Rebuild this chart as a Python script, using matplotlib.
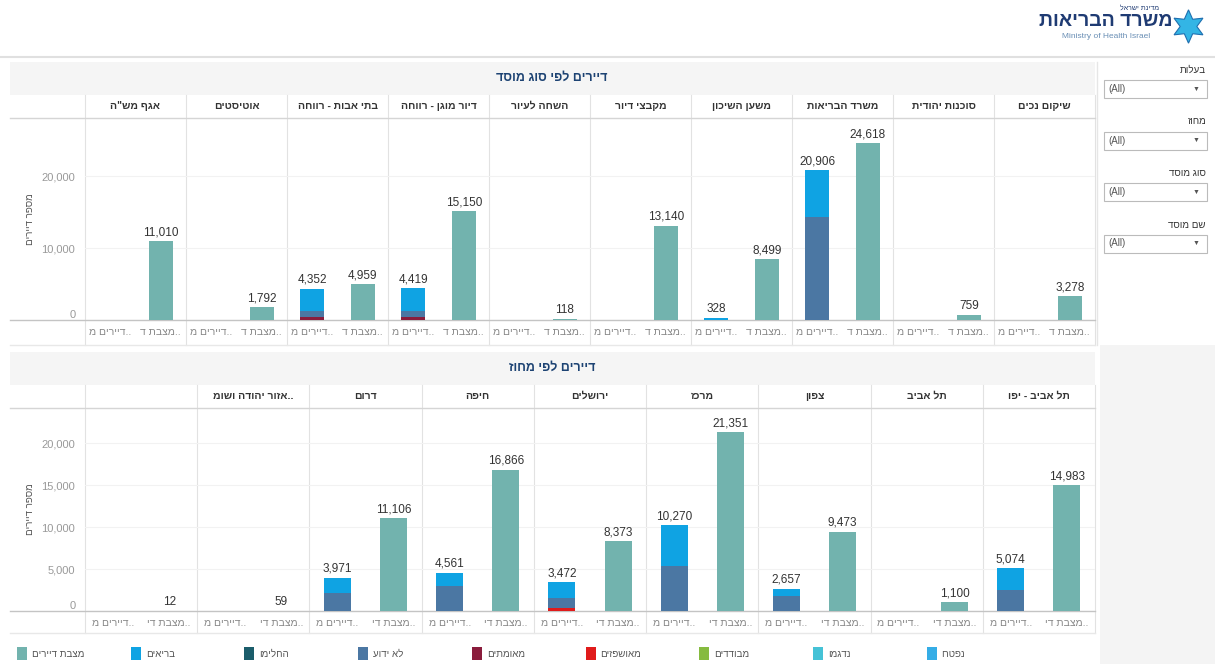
import matplotlib
matplotlib.use('Agg')
import matplotlib.pyplot as plt
from matplotlib.patches import Rectangle
import numpy as np

plt.rcParams['font.family'] = ['Liberation Sans', 'DejaVu Sans']

# --- data: residents by institution type (top) ---
type_cats = ['אגף מש"ה', 'אוטיסטים', 'בתי אבות - רווחה', 'דיור מוגן - רווחה', 'השחה לעיור',
             'מקבצי דיור', 'משען השיכון', 'משרד הבריאות', 'סוכנות יהודית', 'שיקום נכים']
type_census = [11010, 1792, 4959, 15150, 118, 13140, 8499, 24618, 759, 3278]
type_healthy = [0, 0, 3152, 3169, 0, 0, 328, 6556, 0, 0]
type_unknown = [0, 0, 800, 850, 0, 0, 0, 14350, 0, 0]
type_confirmed = [0, 0, 400, 400, 0, 0, 0, 0, 0, 0]
type_hosp = [0, 0, 0, 0, 0, 0, 0, 0, 0, 0]

# --- data: residents by district (bottom) ---
dist_cats = ['', 'אזור יהודה ושומ', 'דרום', 'חיפה', 'ירושלים', 'מרכז', 'צפון', 'תל אביב', 'תל אביב - יפו']
dist_cut = [False, True, False, False, False, False, False, False, False]
dist_census = [12, 59, 11106, 16866, 8373, 21351, 9473, 1100, 14983]
dist_healthy = [0, 0, 1861, 1541, 1952, 4900, 867, 0, 2574]
dist_unknown = [0, 0, 2110, 3020, 1190, 5370, 1790, 0, 2500]
dist_confirmed = [0, 0, 0, 0, 0, 0, 0, 0, 0]
dist_hosp = [0, 0, 0, 0, 330, 0, 0, 0, 0]

legend_names = ['מצבת דיירים', 'בריאים', 'החלימו', 'לא ידוע', 'מאומתים', 'מאושפזים', 'מבודדים', 'נדגמו', 'נפטרו']
legend_colors = ['#72b3ae', '#0fa3e3', '#1b5d6b', '#4b77a3', '#8a1c3c', '#e01b1b', '#86bb40', '#45c2d6', '#35ade6']
filter_names = ['בעלות', 'מחוז', 'סוג מוסד', 'שם מוסד']

TEAL, BLUE, STEEL, MAROON, RED = '#72b3ae', '#0fa3e3', '#4b77a3', '#8a1c3c', '#e01b1b'
W, H = 1215, 664


def heb(s, cut=False):
    # matplotlib has no bidi support, so lay Hebrew out visually
    t = s[::-1]
    return t + '..' if cut else t


fig = plt.figure(figsize=(W / 100, H / 100), dpi=100)
bg = fig.add_axes([0, 0, 1, 1])
bg.set_xlim(0, W)
bg.set_ylim(H, 0)
bg.axis('off')


def px_axes(x0, y0, x1, y1):
    return fig.add_axes([x0 / W, 1 - y1 / H, (x1 - x0) / W, (y1 - y0) / H])


def panel(top, base, xl_bottom, title, cats, cuts, census, healthy, unknown, confirmed, hosp,
          ymax, yticks, census_lbl):
    head_top = top + 33
    plot_top = top + 56
    bg.add_patch(Rectangle((10, top), 1085, 33, color='#f5f5f5', lw=0))
    bg.text(552, top + 16, heb(title), ha='center', va='center', fontsize=9,
            fontweight='bold', color='#1d4373')
    n = len(cats)
    colw = 1010 / n
    for i in range(n + 1):
        xp = 85 + i * colw
        bg.plot([xp, xp], [head_top, xl_bottom], color='#e2e2e2', lw=0.8)
    for i, c in enumerate(cats):
        bg.text(85 + (i + 0.5) * colw, head_top + 11, heb(c, cuts[i]), ha='center', va='center',
                fontsize=7.5, fontweight='bold', color='#333333')
    bg.plot([10, 1095], [plot_top, plot_top], color='#d5d5d5', lw=1)
    bg.plot([10, 1095], [base, base], color='#c4c4c4', lw=1)
    bg.plot([10, 1095], [xl_bottom, xl_bottom], color='#e8e8e8', lw=1)
    bg.text(30, (plot_top + base) / 2, heb('מספר דיירים'), rotation=90, ha='center', va='center',
            fontsize=7, color='#555555')

    ax = px_axes(85, plot_top, 1095, base)
    ax.set_facecolor('none')
    x = np.arange(n)
    ax.set_xlim(0, n)
    ax.set_ylim(0, ymax)
    ax.bar(x + 0.75, census, 0.24, color=TEAL, zorder=3)
    bottom = np.zeros(n)
    for vals, col in [(confirmed, MAROON), (hosp, RED), (unknown, STEEL), (healthy, BLUE)]:
        ax.bar(x + 0.25, vals, 0.24, bottom=bottom, color=col, zorder=3)
        bottom = bottom + np.array(vals)
    for i in range(n):
        for xpos, v in [(i + 0.25, int(bottom[i])), (i + 0.75, census[i])]:
            if v > 0:
                ax.annotate(f'{v:,}', (xpos, v), xytext=(0, 2), textcoords='offset points',
                            ha='center', va='bottom', fontsize=8.5, color='#333333', zorder=4)
    for s in ax.spines.values():
        s.set_visible(False)
    ax.set_yticks(yticks, [f'{t:,}' for t in yticks])
    ax.get_yticklabels()[0].set_va('bottom')
    ax.yaxis.grid(True, color='#f2f2f2', lw=0.8)
    ax.set_axisbelow(True)
    ax.tick_params(axis='y', length=0, pad=7, labelsize=8, labelcolor='#999999')
    pos = list(x + 0.25) + list(x + 0.75)
    lbl = [heb('דיירים מ', True)] * n + [census_lbl] * n
    ax.set_xticks(pos, lbl)
    ax.tick_params(axis='x', length=0, pad=5, labelsize=7.5, labelcolor='#888888')
    return ax


panel(62, 320, 345, 'דיירים לפי סוג מוסד', type_cats, [False] * len(type_cats),
      type_census, type_healthy, type_unknown, type_confirmed, type_hosp,
      28130, [0, 10000, 20000], heb('מצבת ד', True))
panel(352, 611, 633, 'דיירים לפי מחוז', dist_cats, dist_cut,
      dist_census, dist_healthy, dist_unknown, dist_confirmed, dist_hosp,
      24220, [0, 5000, 10000, 15000, 20000], heb('מצבת די', True))

# header / logo
bg.plot([0, W], [57, 57], color='#e0e0e0', lw=1.5)
bg.text(1106, 22, heb('משרד הבריאות'), ha='center', va='center', fontsize=14,
        fontweight='bold', color='#1f3b73')
bg.text(1140, 8, heb('מדינת ישראל'), ha='center', va='center', fontsize=5, color='#1f3b73')
bg.text(1106, 37, 'Ministry of Health Israel', ha='center', va='center', fontsize=6, color='#6a8fb5')
bg.plot([1188], [26], marker=(6, 1, 0), ms=24, color='#33b5e5', mec='#1f6fb0', mew=0.8)

# filter side panel
bg.add_patch(Rectangle((1100, 345), 115, 319, color='#f4f4f4', lw=0))
bg.plot([1097, 1097], [62, 345], color='#e6e6e6', lw=1)
for k, name in enumerate(filter_names):
    y = 70 + k * 51.5
    bg.text(1206, y, heb(name), ha='right', va='center', fontsize=7, color='#333333')
    bg.add_patch(Rectangle((1104, y + 10), 103, 18, fc='white', ec='#bbbbbb', lw=0.8))
    bg.text(1108, y + 19, '(All)', ha='left', va='center', fontsize=7, color='#555555')
    bg.text(1196, y + 19, '▼', ha='center', va='center', fontsize=5, color='#555555')

# legend
for k, (name, col) in enumerate(zip(legend_names, legend_colors)):
    x0 = 17 + k * 113.7
    bg.add_patch(Rectangle((x0, 647), 10, 13, color=col, lw=0))
    bg.text(x0 + 15, 654, heb(name), ha='left', va='center', fontsize=7, color='#555555')

fig.savefig('out.png', dpi=100)
